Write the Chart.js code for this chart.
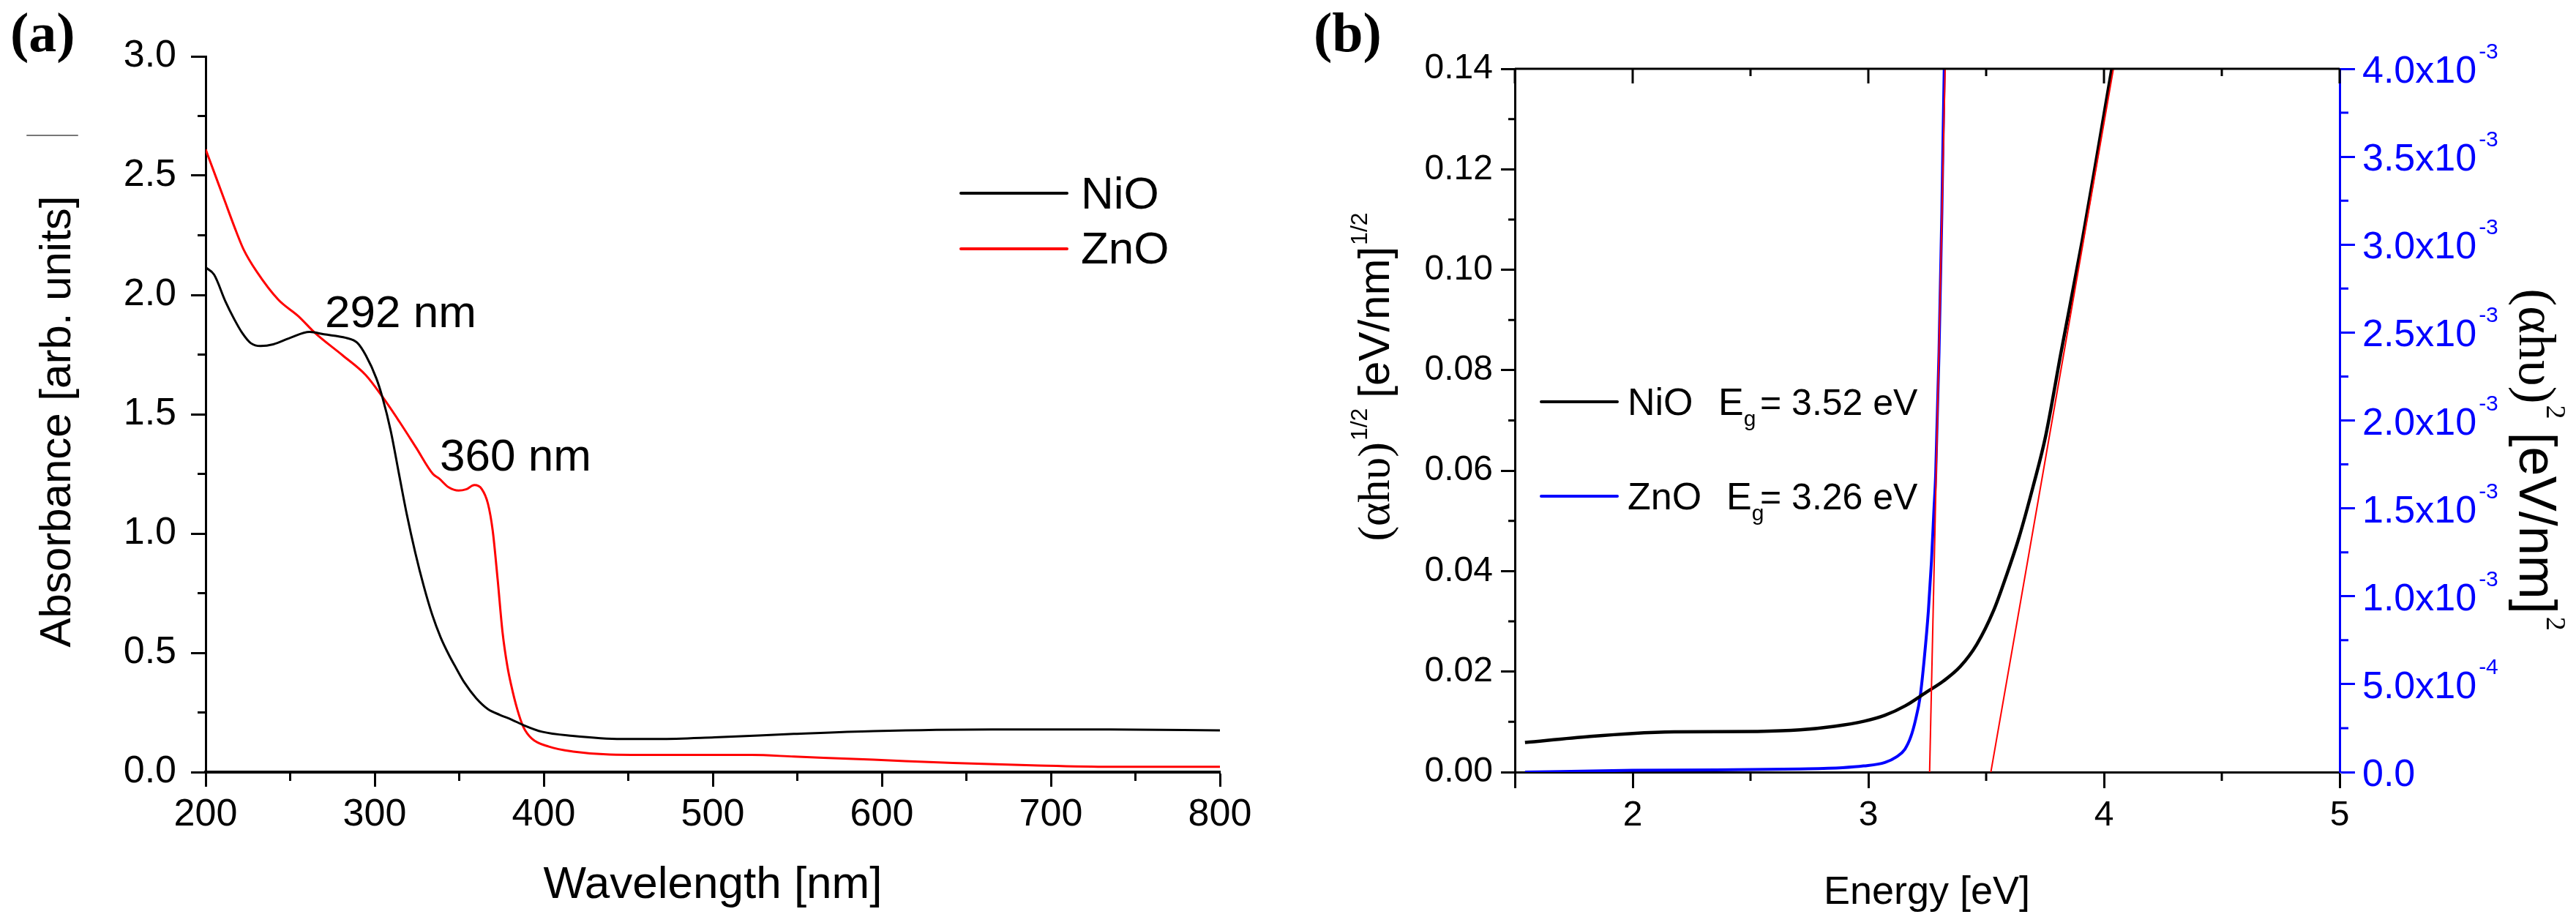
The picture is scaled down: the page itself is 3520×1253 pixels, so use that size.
<!DOCTYPE html>
<html>
<head>
<meta charset="utf-8">
<script src="https://cdn.jsdelivr.net/npm/chart.js@4.4.1/dist/chart.umd.min.js"></script>
<style>
  html, body { margin: 0; padding: 0; background: #fff; }
  body { width: 3520px; height: 1253px; position: relative; overflow: hidden; }
  canvas { position: absolute; top: 0; }
  #chartA { left: 0; }
  #chartB { left: 1760px; }
</style>
</head>
<body>
<canvas id="chartA" width="1760" height="1253"></canvas>
<canvas id="chartB" width="1760" height="1253"></canvas>
<script>
// ---- panel (a): absorbance spectra ----
var wavelengthNiO = [200, 205, 211.7, 216.8, 221.7, 226.7, 232.5, 240, 250, 261.5, 270, 283, 289.6, 294.8, 301, 304.6, 309.5, 314.5, 319, 324, 329, 334, 339, 344, 348, 353, 360, 367, 374, 381, 388, 399, 417, 446, 468, 501, 548, 595, 665, 735, 800];
var absorbanceNiO = [2.115, 2.085, 1.973, 1.90, 1.84, 1.798, 1.786, 1.793, 1.82, 1.845, 1.835, 1.82, 1.80, 1.746, 1.65, 1.57, 1.43, 1.245, 1.08, 0.92, 0.78, 0.66, 0.565, 0.49, 0.438, 0.376, 0.31, 0.264, 0.24, 0.22, 0.197, 0.169, 0.152, 0.139, 0.139, 0.146, 0.16, 0.172, 0.179, 0.179, 0.175];
var wavelengthZnO = [200, 205, 211, 218.4, 222.5, 230, 243, 255, 264.8, 281, 294.6, 304.6, 314.5, 324.5, 334.4, 338, 343.9, 349.6, 354, 359, 363.3, 367, 369.8, 372.7, 375.6, 378.5, 380.7, 384.3, 387.9, 392.9, 403, 417.5, 439, 482, 523, 548, 595, 642, 689, 735, 800];
var absorbanceZnO = [2.61, 2.515, 2.40, 2.26, 2.19, 2.10, 1.98, 1.91, 1.84, 1.747, 1.665, 1.573, 1.47, 1.36, 1.25, 1.231, 1.193, 1.18, 1.185, 1.203, 1.187, 1.125, 1.013, 0.81, 0.588, 0.443, 0.366, 0.264, 0.19, 0.141, 0.107, 0.086, 0.074, 0.072, 0.072, 0.065, 0.052, 0.038, 0.028, 0.022, 0.022];
var wavelengthTicks = [200, 300, 400, 500, 600, 700, 800];
var absorbanceTicks = [0, 0.5, 1, 1.5, 2, 2.5, 3];
var absorbanceTickLabels = ['0.0', '0.5', '1.0', '1.5', '2.0', '2.5', '3.0'];

// ---- panel (b): Tauc plots ----
var energyNiO = [1.543, 1.82, 2.0, 2.176, 2.53, 2.71, 2.855, 2.98, 3.07, 3.157, 3.246, 3.318, 3.39, 3.46, 3.532, 3.585, 3.64, 3.70, 3.752, 3.818, 3.908, 3.97, 4.032, 4.05];
var sqrtNiO = [0.0059, 0.0071, 0.0077, 0.0080, 0.0081, 0.0084, 0.0091, 0.0101, 0.0113, 0.0132, 0.0159, 0.0181, 0.021, 0.0254, 0.0322, 0.039, 0.0468, 0.057, 0.0668, 0.0836, 0.1059, 0.1226, 0.1397, 0.1445];
var energyZnO = [1.543, 2.0, 2.355, 2.71, 2.89, 2.98, 3.07, 3.12, 3.155, 3.18, 3.20, 3.22, 3.237, 3.255, 3.268, 3.278, 3.286, 3.30, 3.312, 3.322, 3.326];
var squareZnO = [0, 0.00001, 0.000012, 0.000018, 0.000025, 0.000035, 0.000055, 0.000087, 0.00013, 0.0002, 0.000295, 0.00043, 0.00064, 0.00092, 0.0012, 0.00148, 0.0017, 0.00239, 0.00318, 0.00399, 0.0041];
var fitNiOEnergy = [3.52, 4.04];
var fitNiOValue = [0, 0.14];
var fitZnOEnergy = [3.26, 3.326];
var fitZnOValue = [0, 0.004];
var energyTicks = [1.5, 2, 3, 4, 5];
var energyTickLabels = ['', '2', '3', '4', '5'];
var sqrtTicks = [0, 0.02, 0.04, 0.06, 0.08, 0.10, 0.12, 0.14];
var sqrtTickLabels = ['0.00', '0.02', '0.04', '0.06', '0.08', '0.10', '0.12', '0.14'];
var squareTicks = [0, 0.0005, 0.001, 0.0015, 0.002, 0.0025, 0.003, 0.0035, 0.004];
var squareTickMantissa = ['0.0', '5.0x10', '1.0x10', '1.5x10', '2.0x10', '2.5x10', '3.0x10', '3.5x10', '4.0x10'];
var squareTickExponent = ['', '-4', '-3', '-3', '-3', '-3', '-3', '-3', '-3'];

var SANS = 'Liberation Sans, Arial, sans-serif';
var SERIF = 'Liberation Serif, Times New Roman, serif';
var BLUE = '#0000ff';
var RED = '#ff0000';

function pts(xs, ys) {
    return xs.map(function(x, i) { return {x: x, y: ys[i]}; });
}
function fixedTicks(values) {
    return function(scale) {
        scale.ticks = values.map(function(v) { return {value: v}; });
    };
}

// minor tick marks between the majors, placed through the scale
var minorTicks = {
    id: 'minorTicks',
    afterDraw: function(chart, args, opts) {
        var ctx = chart.ctx, area = chart.chartArea;
        (opts.list || []).forEach(function(o) {
            var s = chart.scales[o.scale];
            var majors = s.ticks.map(function(t) { return t.value; });
            ctx.save();
            ctx.strokeStyle = o.color || '#000';
            ctx.lineWidth = o.width || 3;
            ctx.beginPath();
            var n = Math.round((s.max - s.min) / o.step);
            for (var i = 0; i <= n; i++) {
                var v = s.min + i * o.step;
                var isMajor = majors.some(function(m) { return Math.abs(m - v) < o.step / 100; });
                var len = isMajor ? o.major : o.len;
                if (!len) continue;
                var p = s.getPixelForValue(v);
                if (o.side === 'bottom') { ctx.moveTo(p, area.bottom); ctx.lineTo(p, area.bottom + len); }
                if (o.side === 'top') { ctx.moveTo(p, area.top); ctx.lineTo(p, area.top + len); }
                if (o.side === 'left') { ctx.moveTo(area.left, p); ctx.lineTo(area.left - len, p); }
                if (o.side === 'right') { ctx.moveTo(area.right, p); ctx.lineTo(area.right + len, p); }
            }
            ctx.stroke();
            if (o.side === 'top') {
                ctx.beginPath();
                ctx.moveTo(area.left, area.top);
                ctx.lineTo(area.right, area.top);
                ctx.stroke();
            }
            ctx.restore();
        });
    }
};

function drawRich(ctx, item) {
    ctx.save();
    ctx.translate(item.x, item.y);
    if (item.rot) ctx.rotate(item.rot * Math.PI / 180);
    ctx.textBaseline = 'alphabetic';
    ctx.textAlign = 'left';
    var total = 0;
    item.parts.forEach(function(p) {
        ctx.font = p.font;
        p.w = ctx.measureText(p.t).width;
        total += p.w + (p.gap || 0);
    });
    var cx = item.align === 'center' ? -total / 2 : 0;
    item.parts.forEach(function(p) {
        ctx.font = p.font;
        ctx.fillStyle = p.color || item.color || '#000';
        cx += p.gap || 0;
        ctx.fillText(p.t, cx, p.dy || 0);
        cx += p.w;
    });
    ctx.restore();
}

// titles, labels, legends
var decor = {
    id: 'decor',
    afterDraw: function(chart, args, opts) {
        var ctx = chart.ctx;
        (opts.lines || []).forEach(function(l) {
            ctx.save();
            ctx.strokeStyle = l.color;
            ctx.lineWidth = l.width;
            ctx.lineCap = 'round';
            ctx.beginPath();
            ctx.moveTo(l.x1, l.y);
            ctx.lineTo(l.x2, l.y);
            ctx.stroke();
            ctx.restore();
        });
        (opts.legend || []).forEach(function(g) {
            var ds = chart.data.datasets[g.dataset];
            ctx.save();
            ctx.strokeStyle = ds.borderColor;
            ctx.lineWidth = g.width;
            ctx.lineCap = 'round';
            ctx.beginPath();
            ctx.moveTo(g.x1, g.y);
            ctx.lineTo(g.x2, g.y);
            ctx.stroke();
            ctx.restore();
            drawRich(ctx, {x: g.tx, y: g.ty, parts: [{t: ds.label, font: g.font}]});
        });
        (opts.texts || []).forEach(function(t) { drawRich(ctx, t); });
        if (opts.expLabels) {
            var e = opts.expLabels, s = chart.scales[e.scale];
            s.ticks.forEach(function(tk, i) {
                var y = s.getPixelForValue(tk.value);
                var parts = [{t: squareTickMantissa[i], font: e.font, dy: e.dy}];
                if (squareTickExponent[i]) parts.push({t: squareTickExponent[i], font: e.supFont, dy: e.supDy, gap: 3});
                drawRich(ctx, {x: chart.chartArea.right + e.offset, y: y, parts: parts, color: e.color});
            });
        }
    }
};

Chart.register(minorTicks, decor);

// ---------- chart (a) ----------
new Chart(document.getElementById('chartA').getContext('2d'), {
    type: 'line',
    data: {
        datasets: [{
            label: 'NiO',
            data: pts(wavelengthNiO, absorbanceNiO),
            borderColor: '#000000',
            borderWidth: 3
        }, {
            label: 'ZnO',
            data: pts(wavelengthZnO, absorbanceZnO),
            borderColor: RED,
            borderWidth: 3
        }]
    },
    options: {
        responsive: false,
        animation: false,
        devicePixelRatio: 1,
        events: [],
        parsing: false,
        elements: { point: { radius: 0 }, line: { cubicInterpolationMode: 'monotone' } },
        layout: { padding: { left: 0, top: 77, right: 93, bottom: 0 } },
        scales: {
            x: {
                type: 'linear', min: 200, max: 800,
                afterBuildTicks: fixedTicks(wavelengthTicks),
                afterFit: function(s) { s.height = 198; },
                border: { color: '#000', width: 4 },
                grid: { drawOnChartArea: false, tickLength: 20, tickWidth: 3, tickColor: '#000' },
                ticks: { autoSkip: false, maxRotation: 0, padding: 7, color: '#000',
                         font: { family: SANS, size: 52 } }
            },
            y: {
                type: 'linear', min: 0, max: 3,
                afterBuildTicks: fixedTicks(absorbanceTicks),
                afterFit: function(s) { s.width = 281; },
                border: { color: '#000', width: 3 },
                grid: { drawOnChartArea: false, tickLength: 20, tickWidth: 3, tickColor: '#000' },
                ticks: { autoSkip: false, padding: 20, color: '#000',
                         font: { family: SANS, size: 52 },
                         callback: function(v, i) { return absorbanceTickLabels[i]; } }
            }
        },
        plugins: {
            legend: { display: false },
            tooltip: { enabled: false },
            minorTicks: { list: [
                { scale: 'x', side: 'bottom', step: 50, len: 12 },
                { scale: 'y', side: 'left', step: 0.25, len: 11 }
            ] },
            decor: {
                lines: [{ x1: 37, x2: 106, y: 185, color: '#777', width: 2 }],
                legend: [
                    { dataset: 0, x1: 1313, x2: 1458, y: 264, width: 4, tx: 1477, ty: 285, font: '62px ' + SANS },
                    { dataset: 1, x1: 1313, x2: 1458, y: 340, width: 4, tx: 1477, ty: 360, font: '62px ' + SANS }
                ],
                texts: [
                    { x: 14, y: 70, parts: [{ t: '(a)', font: 'bold 76px ' + SERIF }] },
                    { x: 444, y: 447, parts: [{ t: '292 nm', font: '62px ' + SANS }] },
                    { x: 601, y: 643, parts: [{ t: '360 nm', font: '62px ' + SANS }] },
                    { x: 974, y: 1227, align: 'center', parts: [{ t: 'Wavelength [nm]', font: '62px ' + SANS }] },
                    { x: 96, y: 576, rot: -90, align: 'center', parts: [{ t: 'Absorbance [arb. units]', font: '60px ' + SANS }] }
                ]
            }
        }
    }
});

// ---------- chart (b) ----------
new Chart(document.getElementById('chartB').getContext('2d'), {
    type: 'line',
    data: {
        datasets: [{
            label: 'NiO fit',
            data: pts(fitNiOEnergy, fitNiOValue),
            borderColor: RED, borderWidth: 2, yAxisID: 'y', order: 0
        }, {
            label: 'ZnO fit',
            data: pts(fitZnOEnergy, fitZnOValue),
            borderColor: RED, borderWidth: 2, yAxisID: 'y2', order: 0
        }, {
            label: 'NiO',
            data: pts(energyNiO, sqrtNiO),
            borderColor: '#000000', borderWidth: 4.5, yAxisID: 'y', order: 1
        }, {
            label: 'ZnO',
            data: pts(energyZnO, squareZnO),
            borderColor: BLUE, borderWidth: 4, yAxisID: 'y2', order: 1
        }]
    },
    options: {
        responsive: false,
        animation: false,
        devicePixelRatio: 1,
        events: [],
        parsing: false,
        elements: { point: { radius: 0 }, line: { cubicInterpolationMode: 'monotone' } },
        layout: { padding: { left: 0, top: 94, right: 0, bottom: 0 } },
        scales: {
            x: {
                type: 'linear', min: 1.5, max: 5,
                afterBuildTicks: fixedTicks(energyTicks),
                afterFit: function(s) { s.height = 198; },
                border: { color: '#000', width: 3 },
                grid: { drawOnChartArea: false, tickLength: 22, tickWidth: 3, tickColor: '#000' },
                ticks: { autoSkip: false, maxRotation: 0, padding: 9, color: '#000',
                         font: { family: SANS, size: 48 },
                         callback: function(v, i) { return energyTickLabels[i]; } }
            },
            y: {
                type: 'linear', position: 'left', min: 0, max: 0.14,
                afterBuildTicks: fixedTicks(sqrtTicks),
                afterFit: function(s) { s.width = 310; },
                border: { color: '#000', width: 3 },
                grid: { drawOnChartArea: false, tickLength: 19, tickWidth: 3, tickColor: '#000' },
                ticks: { autoSkip: false, padding: 11, color: '#000',
                         font: { family: SANS, size: 48 },
                         callback: function(v, i) { return sqrtTickLabels[i]; } }
            },
            y2: {
                type: 'linear', position: 'right', min: 0, max: 0.004,
                afterBuildTicks: fixedTicks(squareTicks),
                afterFit: function(s) { s.width = 323; },
                border: { color: BLUE, width: 3 },
                grid: { drawOnChartArea: false, tickLength: 21, tickWidth: 3, tickColor: BLUE },
                ticks: { display: false }
            }
        },
        plugins: {
            legend: { display: false },
            tooltip: { enabled: false },
            minorTicks: { list: [
                { scale: 'x', side: 'bottom', step: 0.5, len: 12 },
                { scale: 'x', side: 'top', step: 0.5, len: 10, major: 20 },
                { scale: 'y', side: 'left', step: 0.01, len: 9 },
                { scale: 'y2', side: 'right', step: 0.00025, len: 12, color: BLUE }
            ] },
            decor: {
                legend: [
                    { dataset: 2, x1: 346, x2: 450, y: 549, width: 4, tx: 464, ty: 567, font: '52px ' + SANS },
                    { dataset: 3, x1: 346, x2: 450, y: 678, width: 4, tx: 464, ty: 696, font: '52px ' + SANS }
                ],
                texts: [
                    { x: 35, y: 70, parts: [{ t: '(b)', font: 'bold 76px ' + SERIF }] },
                    { x: 588, y: 567, parts: [{ t: 'E', font: '52px ' + SANS }, { t: 'g', font: '30px ' + SANS, dy: 15 }] },
                    { x: 645, y: 567, parts: [{ t: '= 3.52 eV', font: '50px ' + SANS }] },
                    { x: 599, y: 696, parts: [{ t: 'E', font: '52px ' + SANS }, { t: 'g', font: '30px ' + SANS, dy: 15 }] },
                    { x: 645, y: 696, parts: [{ t: '= 3.26 eV', font: '50px ' + SANS }] },
                    { x: 873, y: 1235, align: 'center', parts: [{ t: 'Energy [eV]', font: '54px ' + SANS }] },
                    { x: 138, y: 515, rot: -90, align: 'center', parts: [
                        { t: '(\u03b1h\u03c5)', font: '62px ' + SERIF },
                        { t: '1/2', font: '32px ' + SANS, dy: -30, gap: 2 },
                        { t: '[eV/nm]', font: '60px ' + SANS, gap: 14 },
                        { t: '1/2', font: '32px ' + SANS, dy: -30, gap: 2 }
                    ] },
                    { x: 1683, y: 628, rot: 90, align: 'center', parts: [
                        { t: '(\u03b1h\u03c5)', font: '72px ' + SERIF },
                        { t: '2', font: '38px ' + SERIF, dy: -37, gap: 2 },
                        { t: '[eV/nm]', font: '72px ' + SANS, gap: 18 },
                        { t: '2', font: '38px ' + SERIF, dy: -37, gap: 4 }
                    ] }
                ],
                expLabels: { scale: 'y2', offset: 31, font: '52px ' + SANS, supFont: '30px ' + SANS,
                             dy: 19, supDy: -14, color: BLUE }
            }
        }
    }
});
</script>
</body>
</html>
